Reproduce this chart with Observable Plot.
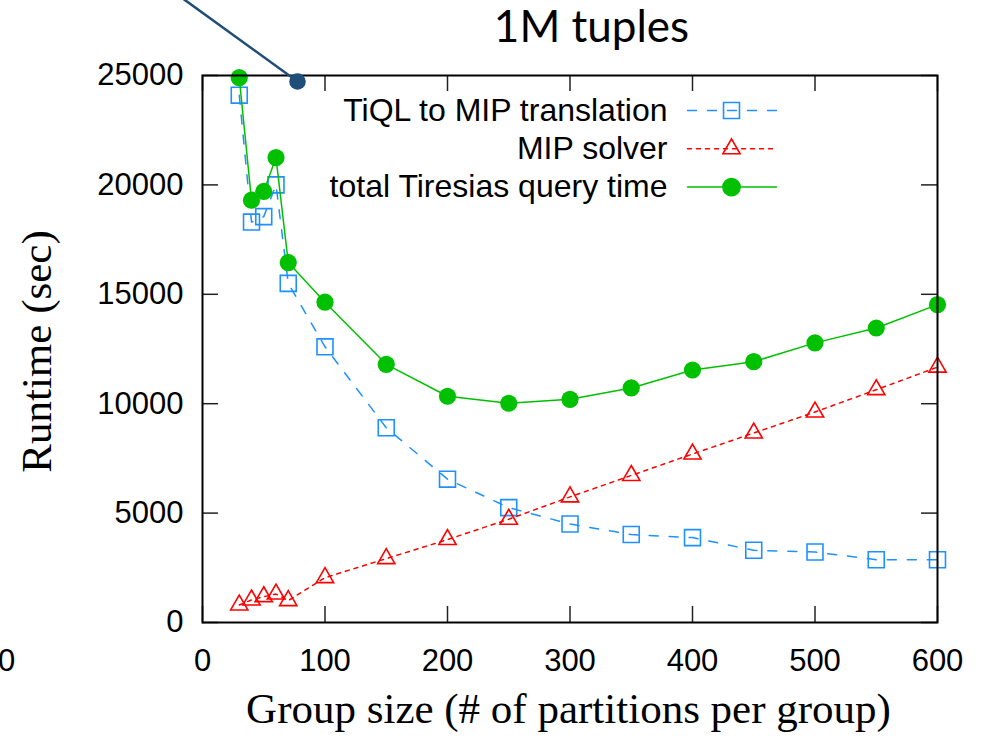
<!DOCTYPE html>
<html>
<head>
<meta charset="utf-8">
<script src="https://cdn.jsdelivr.net/npm/d3@7"></script>
<script src="https://cdn.jsdelivr.net/npm/@observablehq/plot@0.6"></script>
<style>
  html, body { margin: 0; padding: 0; background: #fff; }
</style>
</head>
<body>
<div id="chart"></div>
<script>
// ---- data ----
const groupSize   = [30, 40, 50, 60, 70, 100, 150, 200, 250, 300, 350, 400, 450, 500, 550, 600];
const translation = [24100, 18300, 18550, 20000, 15500, 12600, 8900, 6550, 5250, 4500, 4020, 3880, 3300, 3220, 2870, 2870];
const solver      = [800, 1030, 1180, 1300, 1000, 2050, 2920, 3790, 4720, 5740, 6720, 7700, 8660, 9620, 10640, 11670];
const total       = [24900, 19300, 19700, 21250, 16450, 14640, 11800, 10340, 10020, 10200, 10720, 11540, 11920, 12780, 13460, 14530];
const seriesNames = ["TiQL to MIP translation", "MIP solver", "total Tiresias query time"];
const xTicks = [0, 100, 200, 300, 400, 500, 600];
const yTicks = [0, 5000, 10000, 15000, 20000, 25000];
const titleText = "1M tuples";
const xLabel = "Group size (# of partitions per group)";
const yLabel = "Runtime (sec)";
const strayLabel = "0";

// ---- layout / style ----
const W = 985, H = 740;
const mL = 202, mR = 48, mT = 75, mB = 118;
const plotW = W - mL - mR, plotH = H - mT - mB;
const tickLen = 16;
const sans = "'Liberation Sans', Arial, Helvetica, sans-serif";
const serif = "'Liberation Serif', 'Times New Roman', serif";
const fs = 31;

const blue = "#1e90ff", red = "#ff0000", green = "#00c000", navy = "#1f4e79";

const rows = (vals) => groupSize.map((g, i) => ({x: g, y: vals[i]}));
const tData = rows(translation), sData = rows(solver), gData = rows(total);

const lineShape = {draw(context, l) { context.moveTo(0, 0); context.lineTo(0, -l); }};

const legendRows = [
  {name: seriesNames[0], color: blue, dash: "9,11", symbol: "square", r: 9, fill: "none", dy: 35},
  {name: seriesNames[1], color: red, dash: "4,5", symbol: "triangle", r: 6.4, fill: "none", dy: 73.3},
  {name: seriesNames[2], color: green, dash: null, symbol: "circle", r: 8.6, fill: green, dy: 111.6}
];

const legendMarks = legendRows.flatMap(row => [
  Plot.text([row.name], {text: d => d, frameAnchor: "top-left", dx: 465, dy: row.dy,
    textAnchor: "end", lineAnchor: "middle", fontSize: 32, fontFamily: sans, fill: "black"}),
  Plot.vector([0], {frameAnchor: "top-left", dx: 485, dy: row.dy, rotate: 90, length: 89,
    anchor: "start", shape: lineShape, stroke: row.color, strokeWidth: 1.5,
    strokeDasharray: row.dash}),
  Plot.dot([0], {frameAnchor: "top-left", dx: 529, dy: row.dy, symbol: row.symbol, r: row.r,
    stroke: row.color, fill: row.fill, strokeWidth: 1.6})
]);

const chart = Plot.plot({
  width: W,
  height: H,
  marginLeft: mL,
  marginRight: mR,
  marginTop: mT,
  marginBottom: mB,
  style: {background: "white", color: "black", overflow: "visible"},
  x: {domain: [0, 600]},
  y: {domain: [0, 25000]},
  marks: [
    // axes labels
    Plot.axisX({ticks: xTicks, tickSize: 0, tickPadding: 26, fontSize: fs, fontFamily: sans,
      label: null, tickFormat: d => String(d)}),
    Plot.axisY({ticks: yTicks, tickSize: 0, tickPadding: 19, fontSize: fs, fontFamily: sans,
      label: null, tickFormat: d => String(d)}),
    // inward ticks on all four sides
    Plot.ruleY(yTicks, {y: d => d, insetRight: plotW - tickLen, stroke: "#222", strokeWidth: 1.5}),
    Plot.ruleY(yTicks, {y: d => d, insetLeft: plotW - tickLen, stroke: "#222", strokeWidth: 1.5}),
    Plot.ruleX(xTicks, {x: d => d, insetTop: plotH - tickLen, stroke: "#222", strokeWidth: 1.5}),
    Plot.ruleX(xTicks, {x: d => d, insetBottom: plotH - tickLen, stroke: "#222", strokeWidth: 1.5}),
    // series
    Plot.line(tData, {x: "x", y: "y", stroke: blue, strokeWidth: 1.5, strokeDasharray: "9,11"}),
    Plot.dot(tData, {x: "x", y: "y", symbol: "square", r: 9, stroke: blue, fill: "none", strokeWidth: 1.6}),
    Plot.line(sData, {x: "x", y: "y", stroke: red, strokeWidth: 1.5, strokeDasharray: "4,5"}),
    Plot.dot(sData, {x: "x", y: "y", symbol: "triangle", r: 6.4, stroke: red, fill: "none", strokeWidth: 1.6}),
    Plot.line(gData, {x: "x", y: "y", stroke: green, strokeWidth: 1.5}),
    Plot.dot(gData, {x: "x", y: "y", r: 8.6, fill: green, stroke: "none"}),
    // legend
    ...legendMarks,
    // frame
    Plot.frame({stroke: "black", strokeWidth: 2}),
    // title & axis titles
    Plot.text([titleText], {text: d => d, frameAnchor: "top", dx: 21.5, dy: -48,
      textAnchor: "middle", lineAnchor: "middle",
      fontSize: 44, fontFamily: "Lato, 'Open Sans', sans-serif", fill: "black"}),
    Plot.text([yLabel], {text: d => d, frameAnchor: "left", dx: -152, dy: 2.5, rotate: -90,
      textAnchor: "middle", lineAnchor: "bottom", fontSize: 43, fontFamily: serif, fill: "black"}),
    Plot.text([xLabel], {text: d => d, frameAnchor: "bottom", dx: -1.5, dy: 100,
      textAnchor: "middle", lineAnchor: "bottom", fontSize: 43, fontFamily: serif, fill: "black"}),
    Plot.text([strayLabel], {text: d => d, frameAnchor: "bottom-left", dx: -196, dy: 26,
      textAnchor: "middle", lineAnchor: "top", fontSize: fs, fontFamily: sans, fill: "black"}),
    // annotation pointer
    Plot.vector([0], {frameAnchor: "top-left", dx: 95, dy: 6, rotate: -54.1, length: 140,
      anchor: "start", shape: lineShape, stroke: navy, strokeWidth: 2.5}),
    Plot.dot([0], {frameAnchor: "top-left", dx: 95, dy: 6, r: 8.3, fill: navy})
  ]
});

document.getElementById("chart").append(chart);
</script>
</body>
</html>
